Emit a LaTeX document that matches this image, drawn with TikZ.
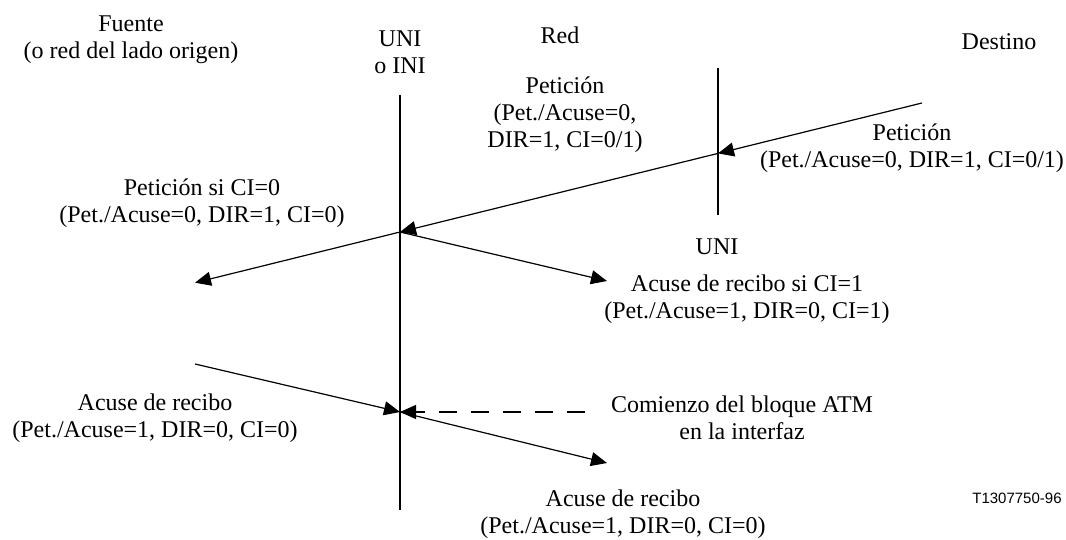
\documentclass[tikz,border=0pt]{standalone}
\usepackage{fontspec}
\setmainfont{Liberation Serif}
\newfontfamily\labelsans{Liberation Sans}
\usetikzlibrary{arrows.meta}
\begin{document}
\begin{tikzpicture}[x=0.5pt,y=-0.5pt,
  txt/.style={align=center,inner sep=0pt,font=\fontsize{12}{13.4}\selectfont},
  wire/.style={line width=0.6pt},
  arr/.style={wire,-{Triangle[length=8pt,width=7pt]}},
  dsh/.style={wire,dash pattern=on 9pt off 7pt}]
\useasboundingbox (0,0) rectangle (1066,540);
% vertical lines
\coordinate (L1) at (400,95);
\coordinate (L2) at (400,510);
\coordinate (R1) at (718,68);
\coordinate (R2) at (718,215);
\draw[wire] (L1) -- (L2);
\draw[wire] (R1) -- (R2);
% request path
\coordinate (p0) at (922,103);
\coordinate (p1) at (718,153.4);
\coordinate (p2) at (400,232);
\coordinate (p3) at (195,282.7);
\coordinate (p4) at (607,281);
\draw[arr] (p0) -- (p1);
\draw[arr] (p1) -- (p2);
\draw[arr] (p2) -- (p3);
\draw[arr] (p2) -- (p4);
% acknowledgement path
\coordinate (q0) at (195,364);
\coordinate (q1) at (400,412);
\coordinate (q2) at (607,463);
\coordinate (d0) at (585,412);
\coordinate (d1) at (410,412);
\draw[arr] (q0) -- (q1);
\draw[arr] (q1) -- (q2);
\draw[dsh] (d0) -- (d1);
\draw[arr] (d1) -- (q1);
% labels
\node[txt] (fuente) at (131,40) {Fuente\\(o red del lado origen)};
\node[txt] (uni1) at (400,52) {UNI\\o INI};
\node[txt] (red) at (560,35) {Red};
\node[txt] (destino) at (999,42) {Destino};
\node[txt] (pet1) at (565,115) {Petición\\(Pet./Acuse=0,\\DIR=1, CI=0/1)};
\node[txt] (pet2) at (912,148) {Petición\\(Pet./Acuse=0, DIR=1, CI=0/1)};
\node[txt] (pet3) at (202,203) {Petición si CI=0\\(Pet./Acuse=0, DIR=1, CI=0)};
\node[txt] (uni2) at (717,247) {UNI};
\node[txt] (ack1) at (747,299) {Acuse de recibo si CI=1\\(Pet./Acuse=1, DIR=0, CI=1)};
\node[txt] (ack2) at (155,418) {Acuse de recibo\\(Pet./Acuse=1, DIR=0, CI=0)};
\node[txt] (atm) at (742,418) {Comienzo del bloque ATM\\en la interfaz};
\node[txt] (ack3) at (623,514) {Acuse de recibo\\(Pet./Acuse=1, DIR=0, CI=0)};
\node[inner sep=0pt,anchor=east,font=\labelsans\fontsize{7.5}{9}\selectfont] (code) at (1062,498) {T1307750-96};
\end{tikzpicture}
\end{document}
